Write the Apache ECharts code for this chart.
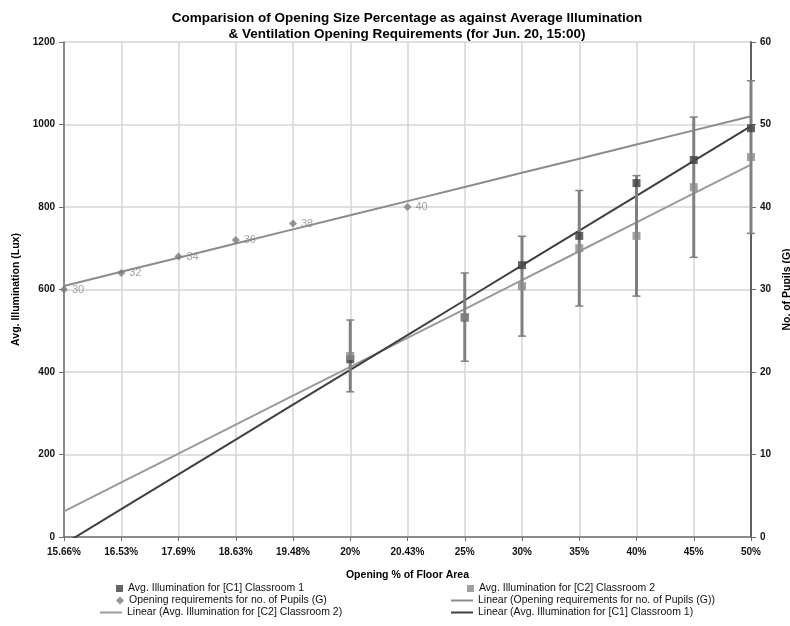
<!DOCTYPE html>
<html><head><meta charset="utf-8">
<script src="https://cdn.jsdelivr.net/npm/echarts@6/dist/echarts.min.js"></script>
<style>html,body{margin:0;padding:0;background:#fff}#c{width:790px;height:626px}</style>
</head><body><div id="c"></div>
<script>
const categories = ['15.66%','16.53%','17.69%','18.63%','19.48%','20%','20.43%','25%','30%','35%','40%','45%','50%'];
const illumC1 = [null,null,null,null,null,431,null,532,659,730,858,914,991];
const illumC2 = [null,null,null,null,null,439,null,533,608,700,730,848,921];
const errC2   = [null,null,null,null,null,87,null,107,121,140,146,170,185];
const pupils  = [30,32,34,36,38,null,40,null,null,null,null,null,null];

const NAME_C1 = 'Avg. Illumination for [C1] Classroom 1';
const NAME_C2 = 'Avg. Illumination for [C2] Classroom 2';
const NAME_P = 'Opening requirements for no. of Pupils (G)';
const NAME_LP = 'Linear (Opening requirements for no. of Pupils (G))';
const NAME_LC2 = 'Linear (Avg. Illumination for [C2] Classroom 2)';
const NAME_LC1 = 'Linear (Avg. Illumination for [C1] Classroom 1)';

function linfit(arr){
  const pts = arr.map((v,i)=>[i,v]).filter(p=>p[1]!=null);
  const n = pts.length;
  const mx = pts.reduce((s,p)=>s+p[0],0)/n, my = pts.reduce((s,p)=>s+p[1],0)/n;
  let sxy=0,sxx=0; pts.forEach(p=>{sxy+=(p[0]-mx)*(p[1]-my);sxx+=(p[0]-mx)*(p[0]-mx);});
  const b = sxy/sxx, a = my-b*mx;
  return arr.map((_,i)=>a+b*i);
}

const FONT = 'Liberation Sans';
const chart = echarts.init(document.getElementById('c'), null, {renderer:'canvas'});

function legendItem(name, left, top, kind, color){
  const l = {data:[{name:name}], left:left, top:top, itemGap:0,
    textStyle:{fontFamily:FONT,fontSize:10.5,color:'#111'}, selectedMode:false, padding:0};
  if(kind==='square'){ l.itemWidth=7; l.itemHeight=7; l.data[0].icon='rect'; }
  else if(kind==='diamond'){ l.itemWidth=8; l.itemHeight=8; l.data[0].icon='diamond'; }
  else { l.itemWidth=22; l.itemHeight=2; l.data[0].icon='rect'; l.data[0].itemStyle={color:color}; }
  return l;
}

const option = {
  backgroundColor:'#fff',
  animation:false,
  title:{text:'Comparision of Opening Size Percentage as against Average Illumination\n& Ventilation Opening Requirements (for Jun. 20, 15:00)',
    left:402, textAlign:'center', top:5,
    textStyle:{fontFamily:FONT,fontSize:13.5,fontWeight:'bold',color:'#000',lineHeight:16}},
  grid:{left:64,right:39,top:42,bottom:89,containLabel:false,outerBoundsMode:'none'},
  legend:[
    legendItem(NAME_C1,116,583,'square'),
    legendItem(NAME_P,116,595,'diamond'),
    legendItem(NAME_LC2,100,607,'line','#9a9a9a'),
    legendItem(NAME_C2,467,583,'square'),
    legendItem(NAME_LP,451,595,'line','#8c8c8c'),
    legendItem(NAME_LC1,451,607,'line','#404040')
  ],
  xAxis:{type:'category',data:categories,boundaryGap:false,
    name:'Opening % of Floor Area',nameLocation:'middle',nameGap:33,
    nameTextStyle:{fontFamily:FONT,fontSize:10.5,fontWeight:'bold',color:'#000'},
    axisLine:{lineStyle:{color:'#6e6e6e',width:1.5}},
    axisTick:{show:true,length:4,lineStyle:{color:'#6e6e6e'}},
    axisLabel:{fontFamily:FONT,fontSize:10,fontWeight:'bold',color:'#111',margin:10,interval:0},
    splitLine:{show:true,lineStyle:{color:'#d6d6d6',width:1.5}}},
  yAxis:[
    {type:'value',min:0,max:1200,interval:200,name:'Avg. Illumination (Lux)',nameLocation:'middle',nameGap:31,nameRotate:90,
     nameTextStyle:{fontFamily:FONT,fontSize:10.5,fontWeight:'bold',color:'#000'},
     axisLine:{show:true,lineStyle:{color:'#6e6e6e',width:1.5}},
     axisTick:{show:true,length:5,lineStyle:{color:'#6e6e6e'}},
     axisLabel:{fontFamily:FONT,fontSize:10,fontWeight:'bold',color:'#111',margin:9,formatter:v=>String(v)},
     splitLine:{show:true,lineStyle:{color:'#d6d6d6',width:1.5}}},
    {type:'value',min:0,max:60,interval:10,name:'No. of Pupils (G)',nameLocation:'middle',nameGap:27,nameRotate:90,
     nameTextStyle:{fontFamily:FONT,fontSize:10.5,fontWeight:'bold',color:'#000'},
     axisLine:{show:true,lineStyle:{color:'#5e5e5e',width:2}},
     axisTick:{show:true,length:5,lineStyle:{color:'#6e6e6e'}},
     axisLabel:{fontFamily:FONT,fontSize:10,fontWeight:'bold',color:'#111',margin:9,formatter:v=>String(v)},
     splitLine:{show:false}}
  ],
  series:[
    {name:NAME_LP,type:'line',yAxisIndex:1,data:linfit(pupils),showSymbol:false,symbol:'none',
     lineStyle:{color:'#8c8c8c',width:2},itemStyle:{color:'#8c8c8c'},z:2},
    {name:NAME_LC2,type:'line',data:linfit(illumC2),showSymbol:false,symbol:'none',
     lineStyle:{color:'#9a9a9a',width:2},itemStyle:{color:'#9a9a9a'},z:2},
    {name:NAME_LC1,type:'line',data:linfit(illumC1),showSymbol:false,symbol:'none',
     lineStyle:{color:'#404040',width:2},itemStyle:{color:'#404040'},z:3},
    {name:'err',type:'custom',
     data:illumC2.map((v,i)=>v==null?null:[i,v-errC2[i],v+errC2[i]]).filter(d=>d),
     renderItem:function(params,api){
       const lo = api.coord([api.value(0),api.value(1)]);
       const hi = api.coord([api.value(0),api.value(2)]);
       const s = {stroke:'#808080',lineWidth:3};
       const c = {stroke:'#808080',lineWidth:1.5};
       return {type:'group',children:[
         {type:'line',shape:{x1:lo[0],y1:lo[1],x2:hi[0],y2:hi[1]},style:s},
         {type:'line',shape:{x1:lo[0]-4,y1:lo[1],x2:lo[0]+4,y2:lo[1]},style:c},
         {type:'line',shape:{x1:hi[0]-4,y1:hi[1],x2:hi[0]+4,y2:hi[1]},style:c}
       ]};
     },z:4,silent:true},
    {name:NAME_C1,type:'scatter',data:illumC1,symbol:'rect',symbolSize:8,itemStyle:{color:'#3f3f3f'},z:5},
    {name:NAME_C2,type:'scatter',data:illumC2,symbol:'rect',symbolSize:8,itemStyle:{color:'#8a8a8a'},z:6},
    {name:NAME_P,type:'scatter',yAxisIndex:1,data:pupils,symbol:'diamond',symbolSize:8,itemStyle:{color:'#7a7a7a'},
     label:{show:true,position:'right',distance:4,fontFamily:FONT,fontSize:11,color:'#8a8a8a'},z:6}
  ]
};
chart.setOption(option);
</script></body></html>
